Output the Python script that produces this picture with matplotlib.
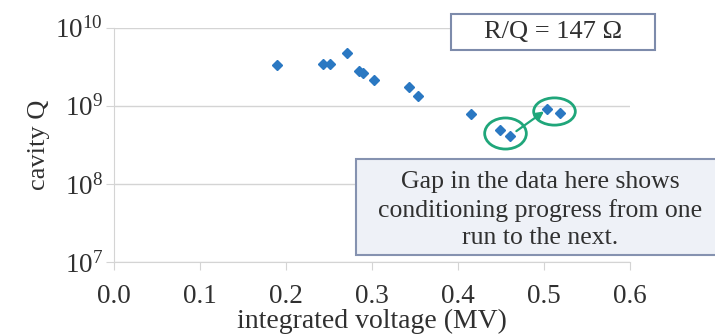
import numpy as np
import matplotlib
matplotlib.use('Agg')
import matplotlib.pyplot as plt
import matplotlib.path as mpath
from matplotlib.patches import Rectangle
from matplotlib.transforms import Affine2D

# data
voltage_mv = [0.190, 0.243, 0.251, 0.271, 0.285, 0.290, 0.302,
              0.343, 0.353, 0.415, 0.449, 0.460, 0.504, 0.519]
cavity_q = [3.37e9, 3.40e9, 3.40e9, 4.81e9, 2.80e9, 2.64e9, 2.17e9,
            1.73e9, 1.35e9, 7.83e8, 4.88e8, 4.11e8, 9.10e8, 8.07e8]
run_before = [10, 11]   # indices of the two runs circled
run_after = [12, 13]
x_ticks = [0.0, 0.1, 0.2, 0.3, 0.4, 0.5, 0.6]
y_ticks = [1e7, 1e8, 1e9, 1e10]
rq_text = 'R/Q = 147 Ω'
gap_text = 'Gap in the data here shows\nconditioning progress from one\nrun to the next.'

plt.rcParams['font.family'] = ['Liberation Serif', 'DejaVu Serif']
plt.rcParams['mathtext.fontset'] = 'stix'
txt = '#303030'
green = '#1fa67a'
blue = '#2a78c2'
grey = '#d4d4d4'

fig = plt.figure(figsize=(7.15, 3.36), dpi=100)
ax = fig.add_axes([0.1594, 0.2202, 0.7217, 0.6974])

ax.set_yscale('log')
ax.plot(voltage_mv, cavity_q, 'D', color=blue, ms=5.5, mec=blue, zorder=4)
ax.set_xlim(0, 0.6)
ax.set_ylim(1e7, 1e10)
ax.set_xticks(x_ticks)
ax.set_xticklabels(['%.1f' % v for v in x_ticks])
ax.set_yticks(y_ticks)
ax.yaxis.set_minor_locator(matplotlib.ticker.NullLocator())

ax.grid(True, axis='y', color=grey, lw=1)
ax.set_axisbelow(True)
for s in ['top', 'right']:
    ax.spines[s].set_visible(False)
ax.spines['left'].set_color(grey)
ax.spines['bottom'].set_color(grey)
ax.tick_params(axis='both', colors=grey, labelcolor=txt, labelsize=19.5, length=6)
ax.tick_params(axis='x', pad=9.5)
ax.tick_params(axis='y', pad=2)

ax.set_xlabel('integrated voltage (MV)', fontsize=20, color=txt, labelpad=0.5)
ax.set_ylabel('cavity Q', fontsize=19, color=txt, labelpad=4)


def ellipse_marker(ratio):
    circ = mpath.Path.unit_circle()
    return circ.transformed(Affine2D().scale(ratio, 1.0))


def group_center(idx):
    xs = np.mean([voltage_mv[i] for i in idx])
    ys = 10 ** np.mean([np.log10(cavity_q[i]) for i in idx])
    return xs, ys


c1 = group_center(run_before)
c2 = group_center(run_after)
ax.plot(*c1, marker=ellipse_marker(1.34), ms=30, mfc='none', mec=green, mew=2, zorder=5, clip_on=False)
ax.plot(*c2, marker=ellipse_marker(1.53), ms=30, mfc='none', mec=green, mew=2, zorder=5, clip_on=False)
ax.annotate('', xy=(voltage_mv[run_after[0]], cavity_q[run_after[0]]),
            xytext=(voltage_mv[run_before[1]], cavity_q[run_before[1]]),
            arrowprops=dict(arrowstyle='-|>', color=green, lw=1.6, shrinkA=6, shrinkB=3,
                            mutation_scale=12), zorder=5)

# R/Q box
ax.add_patch(Rectangle((0.653, 0.906), 0.395, 0.154, transform=ax.transAxes,
                       facecolor='white', edgecolor='#7d8bab', lw=1.5, clip_on=False, zorder=6))
ax.text(0.851, 0.981, rq_text, transform=ax.transAxes, ha='center', va='center',
        fontsize=19, color=txt, zorder=7)

# annotation box
ax.add_patch(Rectangle((0.47, 0.03), 0.75, 0.41, transform=ax.transAxes,
                       facecolor='#eef1f7', edgecolor='#8592b0', lw=1.5, clip_on=False, zorder=6))
ax.text(0.826, 0.222, gap_text, transform=ax.transAxes, ha='center', va='center',
        fontsize=18.5, color=txt, linespacing=1.32, zorder=7)

fig.savefig('out.png', dpi=100)
